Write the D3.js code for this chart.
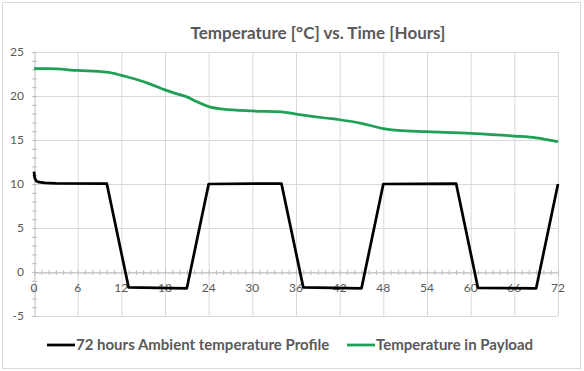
<!DOCTYPE html>
<html>
<head>
<meta charset="utf-8">
<script src="https://cdn.jsdelivr.net/npm/d3@7"></script>
<style>
  body { margin: 0; background: #fff; }
  text { font-family: Lato, "Open Sans", sans-serif; fill: #595959; }
</style>
</head>
<body>
<div id="chart"></div>
<script>
// data
const title = "Temperature [°C] vs. Time [Hours]"
const ambientName = "72 hours Ambient temperature Profile"
const payloadName = "Temperature in Payload"

const ambientHours = [0, 0.1, 0.3, 0.7, 1.5, 3, 10, 13, 21, 24, 34, 37, 45, 48, 58, 61, 69, 72]
const ambientTemps = [11.4, 10.7, 10.35, 10.2, 10.12, 10.07, 10.05, -1.75, -1.85, 10.0, 10.05, -1.75, -1.85, 10.0, 10.05, -1.8, -1.85, 10.0]

const payloadHours = [0, 2, 6, 10, 12, 14, 16, 18, 20, 21, 22, 24, 26, 30, 34, 36, 40, 42, 45, 48, 50, 54, 60, 66, 69, 72]
const payloadTemps = [23.1, 23.1, 22.9, 22.7, 22.35, 21.9, 21.35, 20.7, 20.15, 19.9, 19.5, 18.8, 18.5, 18.3, 18.2, 17.95, 17.5, 17.3, 16.9, 16.3, 16.1, 15.95, 15.75, 15.45, 15.25, 14.8]

const xTicks = [0, 6, 12, 18, 24, 30, 36, 42, 48, 54, 60, 66, 72]
const yTicks = [-5, 0, 5, 10, 15, 20, 25]

const width = 584, height = 371
const margin = { top: 52, right: 26, bottom: 55, left: 34 }

const svg = d3.select("#chart").append("svg")
    .attr("width", width)
    .attr("height", height)

// chart frame
svg.append("rect")
    .attr("x", 2.5).attr("y", 2.5)
    .attr("width", 578).attr("height", 366)
    .attr("fill", "#fff")
    .attr("stroke", "#d9d9d9")

const x = d3.scaleLinear().domain([0, 72]).range([margin.left, width - margin.right])
const y = d3.scaleLinear().domain([-5, 25]).range([height - margin.bottom, margin.top])

// gridlines
svg.append("g")
    .selectAll("line")
    .data(yTicks)
    .join("line")
    .attr("x1", x(0)).attr("x2", x(72))
    .attr("y1", d => y(d) + 0.5).attr("y2", d => y(d) + 0.5)
    .attr("stroke", "#d9d9d9")

svg.append("g")
    .selectAll("line")
    .data(xTicks.slice(1))
    .join("line")
    .attr("x1", d => x(d) + 0.5).attr("x2", d => x(d) + 0.5)
    .attr("y1", y(25)).attr("y2", y(-5))
    .attr("stroke", "#d9d9d9")

// y axis with minor cross ticks
const yAxis = svg.append("g")
    .attr("transform", `translate(${x(0) + 0.5},0)`)
    .call(d3.axisLeft(y).tickValues(d3.range(-5, 26, 1)).tickSize(3).tickFormat(""))
yAxis.selectAll("line").attr("x2", -2.5).attr("x1", 2.5).attr("stroke", "#bfbfbf")
yAxis.select(".domain").attr("stroke", "#bfbfbf")

// x axis along 0 with minor cross ticks
const xAxis = svg.append("g")
    .attr("transform", `translate(0,${y(0) + 0.5})`)
    .call(d3.axisBottom(x).tickValues(d3.range(0, 73, 1)).tickSize(3).tickFormat(""))
xAxis.selectAll("line").attr("y1", -2.5).attr("y2", 2.5).attr("stroke", "#bfbfbf")
xAxis.select(".domain").attr("stroke", "#bfbfbf")

// y labels
svg.append("g")
    .selectAll("text")
    .data(yTicks)
    .join("text")
    .attr("x", 24)
    .attr("y", d => y(d) + 4)
    .attr("text-anchor", "end")
    .attr("font-size", 12)
    .text(d => d)

// x labels
svg.append("g")
    .selectAll("text")
    .data(xTicks)
    .join("text")
    .attr("x", d => x(d))
    .attr("y", y(0) + 20)
    .attr("text-anchor", "middle")
    .attr("font-size", 12)
    .text(d => d)

// lines
const ambient = ambientHours.map((h, i) => [h, ambientTemps[i]])
const payload = payloadHours.map((h, i) => [h, payloadTemps[i]])

svg.append("path")
    .datum(payload)
    .attr("fill", "none")
    .attr("stroke", "#1fa055")
    .attr("stroke-width", 2.75)
    .attr("stroke-linejoin", "round")
    .attr("d", d3.line().x(d => x(d[0])).y(d => y(d[1])).curve(d3.curveMonotoneX))

svg.append("path")
    .datum(ambient)
    .attr("fill", "none")
    .attr("stroke", "#000")
    .attr("stroke-width", 2.75)
    .attr("stroke-linejoin", "round")
    .attr("d", d3.line().x(d => x(d[0])).y(d => y(d[1])))

// title
svg.append("text")
    .attr("x", 318)
    .attr("y", 39)
    .attr("text-anchor", "middle")
    .attr("font-size", 17)
    .attr("font-weight", "bold")
    .text(title)

// legend
const legend = [
    { name: ambientName, color: "#000", x: 47 },
    { name: payloadName, color: "#1fa055", x: 347 }
]
const lg = svg.append("g").selectAll("g").data(legend).join("g")
    .attr("transform", d => `translate(${d.x},345)`)
lg.append("line")
    .attr("x1", 0).attr("x2", 28)
    .attr("stroke", d => d.color)
    .attr("stroke-width", 2.75)
lg.append("text")
    .attr("x", 29)
    .attr("y", 5)
    .attr("font-size", 15)
    .attr("font-weight", "bold")
    .text(d => d.name)
</script>
</body>
</html>
